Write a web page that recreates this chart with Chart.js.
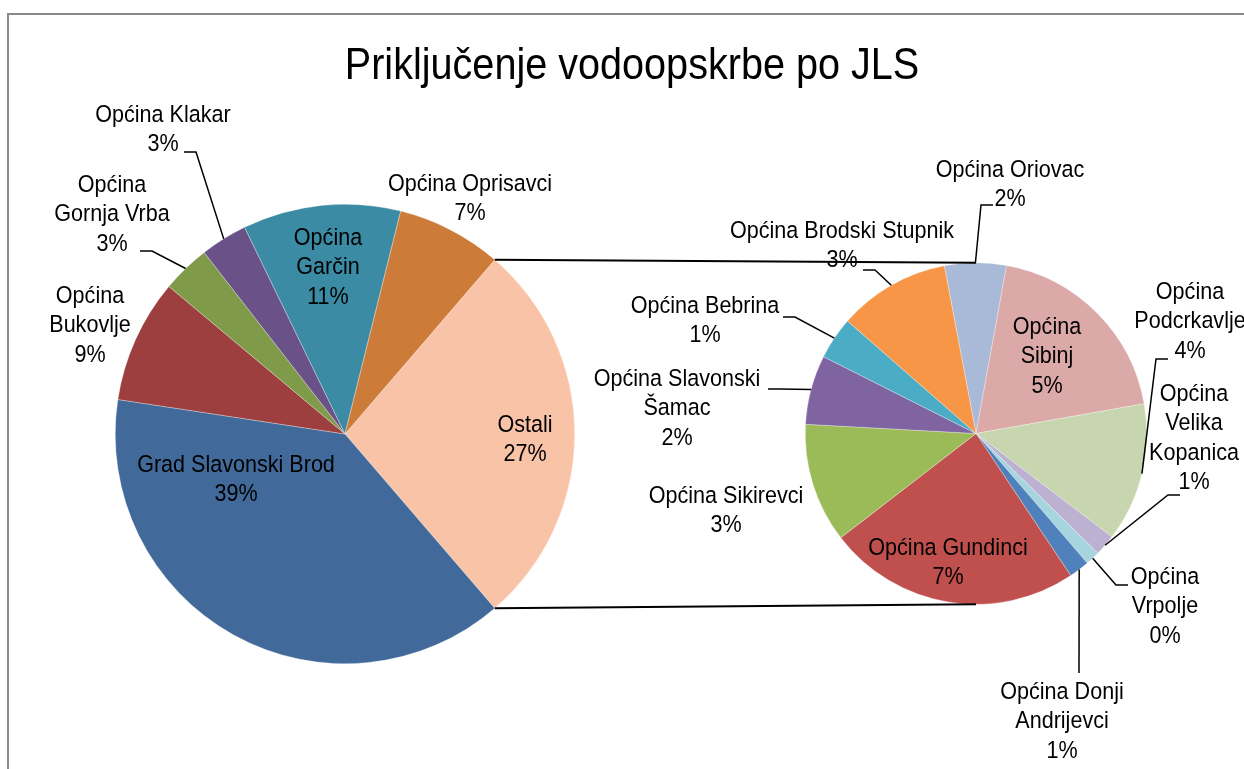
<!DOCTYPE html>
<html>
<head>
<meta charset="utf-8">
<script src="https://cdn.jsdelivr.net/npm/chart.js@4.4.1/dist/chart.umd.min.js"></script>
<style>
  html, body { margin: 0; padding: 0; background: #fff; overflow: hidden; }
  #wrap { position: relative; width: 1244px; height: 769px; }
  #frame { position: absolute; left: 7px; top: 13px; width: 1300px; height: 800px;
           border-left: 2px solid #8a8a8a; border-top: 2px solid #8a8a8a; }
  canvas { position: absolute; left: 0; top: 0; }
</style>
</head>
<body>
<div id="wrap">
  <div id="frame"></div>
  <canvas id="mainPie" width="1244" height="769"></canvas>
  <canvas id="otherPie" width="1244" height="769"></canvas>
</div>
<script>
// Podaci
const chartTitle = 'Priključenje vodoopskrbe po JLS';
const restName = 'Ostali';
const mainLabels = ['Grad Slavonski Brod', 'Općina Bukovlje', 'Općina Gornja Vrba',
                    'Općina Klakar', 'Općina Garčin', 'Općina Oprisavci'];
const mainValues = [38.7, 8.7, 3.4, 3.3, 11.1, 7.4];
const otherLabels = ['Općina Oriovac', 'Općina Sibinj', 'Općina Podcrkavlje',
                     'Općina Velika Kopanica', 'Općina Vrpolje', 'Općina Donji Andrijevci',
                     'Općina Gundinci', 'Općina Sikirevci', 'Općina Slavonski Šamac',
                     'Općina Bebrina', 'Općina Brodski Stupnik'];
const otherValues = [1.6, 5.3, 3.6, 0.55, 0.37, 0.53, 6.55, 3.1, 1.8, 1.1, 2.9];

const mainColors = ['#F9C3A8', '#41699A', '#9C3F3E', '#7F9A48', '#6A5289', '#3A8BA3', '#CC7B38'];
const otherColors = ['#A9B9D8', '#DAA9A8', '#C7D6AE', '#BCB1D0', '#A6D4DF', '#4F81BD',
                     '#C0504D', '#9BBB59', '#8064A2', '#4BACC6', '#F79646'];

const restValue = otherValues.reduce((a, b) => a + b, 0);
const grandTotal = restValue + mainValues.reduce((a, b) => a + b, 0);

// Nema Arial Narrow -> Liberation Sans stisnut vodoravno
const fontFamily = '"Liberation Sans", Arial, sans-serif';
const narrow = 0.88;
const labelSize = 24.5;
const titleSize = 45;
const lineHeight = 29.5;

// Položaj oznaka (središte prvog retka), širina za prelamanje, početak linije
const mainLayout = [
  { x: 525, y: 425, w: 100 },                     // Ostali
  { x: 236, y: 465, w: 260 },                     // Grad Slavonski Brod
  { x: 90,  y: 296, w: 100 },                     // Bukovlje
  { x: 112, y: 185, w: 126, lead: [140, 251] },   // Gornja Vrba
  { x: 163, y: 115, w: 200, lead: [184, 152] },   // Klakar
  { x: 328, y: 238, w: 100 },                     // Garčin
  { x: 470, y: 184, w: 220 }                      // Oprisavci
];
const otherLayout = [
  { x: 1010, y: 170, w: 200, lead: [993, 205] },            // Oriovac
  { x: 1047, y: 327, w: 100 },                              // Sibinj
  { x: 1190, y: 292, w: 120, lead: [1168, 359] },           // Podcrkavlje
  { x: 1194, y: 394, w: 95,  lead: [1180, 495] },           // Velika Kopanica
  { x: 1165, y: 577, w: 90,  lead: [1128, 585] },           // Vrpolje
  { x: 1062, y: 692, w: 140, lead: [1079, 673], up: true }, // Donji Andrijevci
  { x: 948,  y: 548, w: 200 },                              // Gundinci
  { x: 726,  y: 496, w: 200 },                              // Sikirevci
  { x: 677,  y: 379, w: 180, lead: [768, 389] },            // Slavonski Šamac
  { x: 705,  y: 306, w: 200, lead: [783, 317] },            // Bebrina
  { x: 842,  y: 231, w: 280, lead: [863, 270] }             // Brodski Stupnik
];

function wrapText(ctx, text, maxW) {
  const words = text.split(' ');
  const lines = [];
  let cur = '';
  words.forEach(w => {
    const t = cur ? cur + ' ' + w : w;
    if (cur && ctx.measureText(t).width * narrow > maxW) { lines.push(cur); cur = w; }
    else cur = t;
  });
  if (cur) lines.push(cur);
  return lines;
}

function narrowText(ctx, s, x, y) {
  ctx.save();
  ctx.translate(x, y);
  ctx.scale(narrow, 1);
  ctx.fillText(s, 0, 0);
  ctx.restore();
}

function arcProps(arc) {
  return arc.getProps(['x', 'y', 'startAngle', 'endAngle', 'outerRadius'], true);
}

// Oznake kriški s linijama vodilicama
const sliceLabels = {
  id: 'sliceLabels',
  afterDraw(chart, args, opts) {
    const ctx = chart.ctx;
    const meta = chart.getDatasetMeta(0);
    const values = chart.data.datasets[0].data;
    const names = chart.data.labels;
    ctx.save();
    ctx.font = `${labelSize}px ${fontFamily}`;
    ctx.fillStyle = '#000';
    ctx.strokeStyle = '#000';
    ctx.lineWidth = 1.5;
    ctx.textAlign = 'center';
    ctx.textBaseline = 'middle';
    meta.data.forEach((arc, i) => {
      const L = opts.layout[i];
      if (!L) return;
      const pct = Math.round(values[i] / grandTotal * 100) + '%';
      const lines = wrapText(ctx, names[i], L.w).concat(pct);
      lines.forEach((s, k) => narrowText(ctx, s, L.x, L.y + k * lineHeight));
      if (L.lead) {
        const p = arcProps(arc);
        const mid = (p.startAngle + p.endAngle) / 2;
        const ex = p.x + Math.cos(mid) * p.outerRadius;
        const ey = p.y + Math.sin(mid) * p.outerRadius;
        ctx.beginPath();
        ctx.moveTo(L.lead[0], L.lead[1]);
        if (!L.up) ctx.lineTo(L.lead[0] + (ex > L.lead[0] ? 12 : -12), L.lead[1]);
        ctx.lineTo(ex, ey);
        ctx.stroke();
      }
    });
    if (opts.title) {
      ctx.font = `${titleSize}px ${fontFamily}`;
      ctx.textBaseline = 'alphabetic';
      narrowText(ctx, opts.title, 632, 79);
    }
    ctx.restore();
  }
};

let mainChart;

// Spojne linije između glavne i sekundarne pite
const connectors = {
  id: 'connectors',
  afterDraw(chart) {
    const rest = arcProps(mainChart.getDatasetMeta(0).data[0]);
    const sec = arcProps(chart.getDatasetMeta(0).data[0]);
    const ctx = chart.ctx;
    ctx.save();
    ctx.strokeStyle = '#000';
    ctx.lineWidth = 2;
    ctx.beginPath();
    ctx.moveTo(rest.x + Math.cos(rest.startAngle) * rest.outerRadius,
               rest.y + Math.sin(rest.startAngle) * rest.outerRadius);
    ctx.lineTo(sec.x, sec.y - sec.outerRadius);
    ctx.moveTo(rest.x + Math.cos(rest.endAngle) * rest.outerRadius,
               rest.y + Math.sin(rest.endAngle) * rest.outerRadius);
    ctx.lineTo(sec.x, sec.y + sec.outerRadius);
    ctx.stroke();
    ctx.restore();
  }
};

function pieOptions(padding, rotation, layout, title) {
  return {
    responsive: false,
    animation: false,
    rotation: rotation,
    layout: { padding: padding },
    plugins: {
      legend: { display: false },
      tooltip: { enabled: false },
      sliceLabels: { layout: layout, title: title }
    }
  };
}

// Glavna pita: "Ostali" centriran na desnoj strani
mainChart = new Chart(document.getElementById('mainPie'), {
  type: 'pie',
  data: {
    labels: [restName, ...mainLabels],
    datasets: [{
      data: [restValue, ...mainValues],
      backgroundColor: mainColors,
      borderColor: 'rgba(255,255,255,0.6)',
      borderWidth: 0.5
    }]
  },
  options: pieOptions({ left: 115, top: 204, right: 669, bottom: 105 },
                      90 - restValue / grandTotal * 180, mainLayout, chartTitle),
  plugins: [sliceLabels]
});

// Sekundarna pita
new Chart(document.getElementById('otherPie'), {
  type: 'pie',
  data: {
    labels: otherLabels,
    datasets: [{
      data: otherValues,
      backgroundColor: otherColors,
      borderColor: 'rgba(255,255,255,0.6)',
      borderWidth: 0.5
    }]
  },
  options: pieOptions({ left: 805, top: 262.5, right: 97, bottom: 164.5 },
                      -10.7, otherLayout, null),
  plugins: [sliceLabels, connectors]
});
</script>
</body>
</html>
